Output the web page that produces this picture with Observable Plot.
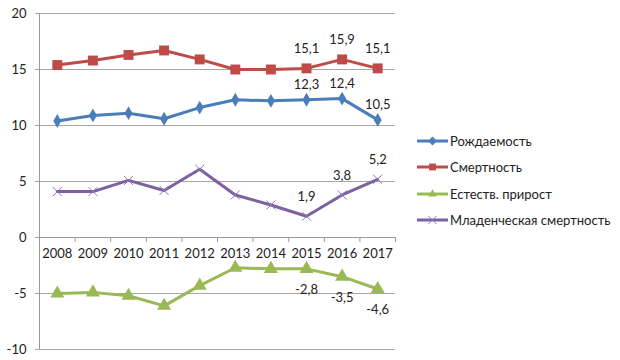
<!DOCTYPE html>
<html>
<head>
<meta charset="utf-8">
<script src="https://cdn.jsdelivr.net/npm/d3@7"></script>
<script src="https://cdn.jsdelivr.net/npm/@observablehq/plot@0.6"></script>
<style>
  html, body { margin: 0; padding: 0; background: #fff; }
  #wrap { position: relative; width: 620px; height: 360px; font-family: Lato, "Open Sans", sans-serif; }
  #legend { position: absolute; left: 417px; top: 0; }
  .lg-row { position: absolute; left: 0; display: flex; align-items: center; white-space: nowrap; font-size: 13px; color: #222; }
  .lg-row svg { display: block; margin-right: 2px; }
</style>
</head>
<body>
<div id="wrap"><div id="legend"></div></div>
<script>
const years = [2008, 2009, 2010, 2011, 2012, 2013, 2014, 2015, 2016, 2017];
const seriesNames = ["Рождаемость", "Смертность", "Естеств. прирост", "Младенческая смертность"];
const births  = [10.4, 10.9, 11.1, 10.6, 11.6, 12.3, 12.2, 12.3, 12.4, 10.5];
const deaths  = [15.4, 15.8, 16.3, 16.7, 15.9, 15.0, 15.0, 15.1, 15.9, 15.1];
const natural = [-5.0, -4.9, -5.2, -6.1, -4.3, -2.7, -2.8, -2.8, -3.5, -4.6];
const infant  = [4.1, 4.1, 5.1, 4.2, 6.1, 3.8, 2.9, 1.9, 3.8, 5.2];
const yTicks = [-10, -5, 0, 5, 10, 15, 20];
const labeledYears = [2015, 2016, 2017];

const colors = ["#4a7ebb", "#be4b48", "#98b954", "#7d60a0"];
const symbols = ["diamond", "square", "triangle", "times"];
const dotR = [4.2, 5.6, 5.2, 4.2];
const labelDy = [-15, -20, 21, -19];
const valuesList = [births, deaths, natural, infant];

const rows = [];
seriesNames.forEach((name, i) => {
  years.forEach((yr, j) => rows.push({series: name, idx: i, year: yr, value: valuesList[i][j]}));
});
const boundaries = d3.range(years.length + 1).map(k => years[0] - 0.5 + k);
const fmt = v => (v < 0 ? "-" : "") + Math.abs(v).toFixed(1).replace(".", ",");

const marks = [
  Plot.ruleY(yTicks.filter(t => t !== 0), {stroke: "#a6a6a6", strokeWidth: 1}),
  Plot.axisY({ticks: yTicks, label: null, tickSize: 4, tickPadding: 9, stroke: "#a6a6a6", fill: "#222", fontSize: 13, tickFormat: d => (d < 0 ? "-" : "") + Math.abs(d)}),
  Plot.ruleX([boundaries[0]], {y1: yTicks[0], y2: yTicks[yTicks.length - 1], stroke: "#999"}),
  Plot.ruleY([0], {stroke: "#999"}),
  Plot.ruleX(boundaries, {y1: 0, y2: 0, insetBottom: -5, stroke: "#999"}),
  Plot.text(years, {x: d => d, y: 0, dy: 16, text: d => String(d), fontSize: 13, fill: "#222"})
];
seriesNames.forEach((name, i) => {
  const data = rows.filter(r => r.idx === i);
  marks.push(Plot.line(data, {x: "year", y: "value", stroke: colors[i], strokeWidth: 3, strokeLinejoin: "round"}));
  if (symbols[i] === "times") {
    marks.push(Plot.dot(data, {x: "year", y: "value", symbol: "times", r: dotR[i], stroke: "#8e78b5", strokeWidth: 1}));
  } else {
    marks.push(Plot.dot(data, {x: "year", y: "value", symbol: symbols[i], r: dotR[i], fill: colors[i], stroke: "none"}));
  }
  marks.push(Plot.text(data.filter(d => labeledYears.includes(d.year)), {x: "year", y: "value", dy: labelDy[i], text: d => fmt(d.value), fontSize: 13, fill: "#222"}));
});

const chart = Plot.plot({
  width: 620,
  height: 360,
  marginLeft: 39,
  marginRight: 225,
  marginTop: 13,
  marginBottom: 11,
  style: {fontFamily: "Lato, 'Open Sans', sans-serif", background: "#fff", color: "#222"},
  x: {type: "linear", domain: [boundaries[0], boundaries[boundaries.length - 1]], axis: null},
  y: {domain: [yTicks[0], yTicks[yTicks.length - 1]], axis: null},
  marks
});
document.getElementById("wrap").prepend(chart);

// legend
const legend = d3.select("#legend");
const symGen = [d3.symbolDiamond2, d3.symbolSquare2, d3.symbolTriangle2, d3.symbolTimes];
const symSize = [50, 60, 50, 45];
seriesNames.forEach((name, i) => {
  const row = legend.append("div").attr("class", "lg-row").style("top", (132 + i * 26.3) + "px");
  const svg = row.append("svg").attr("width", 31).attr("height", 18);
  svg.append("line").attr("x1", 0).attr("x2", 31).attr("y1", 9).attr("y2", 9)
    .attr("stroke", colors[i]).attr("stroke-width", 3);
  const p = svg.append("path").attr("transform", "translate(15.5,9)")
    .attr("d", d3.symbol(symGen[i], symSize[i])());
  if (i === 3) p.attr("fill", "none").attr("stroke", "#8e78b5").attr("stroke-width", 1);
  else p.attr("fill", colors[i]);
  row.append("span").text(name);
});
</script>
</body>
</html>
